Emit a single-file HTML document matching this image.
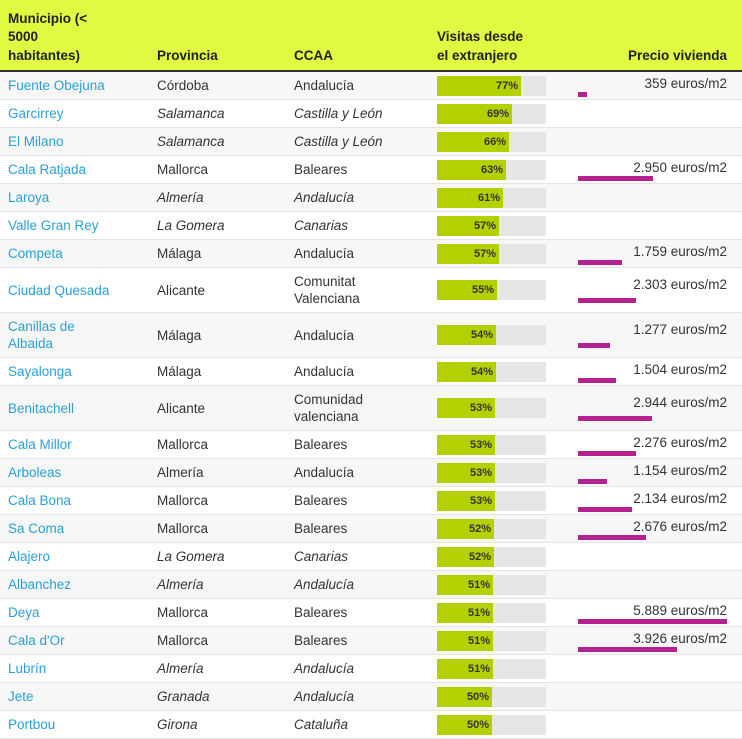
<!DOCTYPE html>
<html><head><meta charset="utf-8"><style>
body{margin:0;background:#fff;font-family:"Liberation Sans",Arial,sans-serif;}
table{border-collapse:collapse;table-layout:fixed;width:742px;font-size:13.5px;color:#333;}
th{background:#e1fa41;text-align:left;vertical-align:bottom;font-weight:bold;font-size:13.5px;line-height:18.5px;padding:0 8px 5px 8px;height:65px;border-bottom:2px solid #333;color:#222}
td{padding:0 0 0 8px;height:27px;border-bottom:1px solid #e4e4e4;line-height:17px;vertical-align:middle}
tr.d td{height:44px}
tr:nth-child(even) td{background:#f7f7f7}
td.m{color:#2aa0d4}
tr.i td.p,tr.i td.c{font-style:italic}
.bar{width:109px;height:20px;background:#e6e6e6;position:relative}
.bar div{height:20px;background:#b5d000;text-align:right;font-size:11px;font-weight:bold;line-height:20px;box-sizing:border-box;padding-right:3px;color:#333}
td.pr{position:relative;padding:0}
td.pr span{position:absolute;right:15px;top:3px}
td.pr i{position:absolute;left:8px;bottom:2px;height:5px;background:#b5228f}
tr.d td.pr span{top:8px}
tr.d td.pr i{bottom:9px}
</style></head><body>
<table>
<colgroup><col style="width:149px"><col style="width:137px"><col style="width:143px"><col style="width:141px"><col style="width:172px"></colgroup>
<tr><th>Municipio (&lt;<br>5000<br>habitantes)</th><th>Provincia</th><th>CCAA</th><th>Visitas desde<br>el extranjero</th><th style="text-align:right;padding-right:15px">Precio vivienda</th></tr>
<tr><td class="m">Fuente Obejuna</td><td class="p">Córdoba</td><td class="c">Andalucía</td><td><div class="bar"><div style="width:84px">77%</div></div></td><td class="pr"><span>359 euros/m2</span><i style="width:9px"></i></td></tr>
<tr class="i"><td class="m">Garcirrey</td><td class="p">Salamanca</td><td class="c">Castilla y León</td><td><div class="bar"><div style="width:75px">69%</div></div></td><td class="pr"></td></tr>
<tr class="i"><td class="m">El Milano</td><td class="p">Salamanca</td><td class="c">Castilla y León</td><td><div class="bar"><div style="width:72px">66%</div></div></td><td class="pr"></td></tr>
<tr><td class="m">Cala Ratjada</td><td class="p">Mallorca</td><td class="c">Baleares</td><td><div class="bar"><div style="width:69px">63%</div></div></td><td class="pr"><span>2.950 euros/m2</span><i style="width:75px"></i></td></tr>
<tr class="i"><td class="m">Laroya</td><td class="p">Almería</td><td class="c">Andalucía</td><td><div class="bar"><div style="width:66px">61%</div></div></td><td class="pr"></td></tr>
<tr class="i"><td class="m">Valle Gran Rey</td><td class="p">La Gomera</td><td class="c">Canarias</td><td><div class="bar"><div style="width:62px">57%</div></div></td><td class="pr"></td></tr>
<tr><td class="m">Competa</td><td class="p">Málaga</td><td class="c">Andalucía</td><td><div class="bar"><div style="width:62px">57%</div></div></td><td class="pr"><span>1.759 euros/m2</span><i style="width:44px"></i></td></tr>
<tr class="d"><td class="m">Ciudad Quesada</td><td class="p">Alicante</td><td class="c">Comunitat<br>Valenciana</td><td><div class="bar"><div style="width:60px">55%</div></div></td><td class="pr"><span>2.303 euros/m2</span><i style="width:58px"></i></td></tr>
<tr class="d"><td class="m">Canillas de<br>Albaida</td><td class="p">Málaga</td><td class="c">Andalucía</td><td><div class="bar"><div style="width:59px">54%</div></div></td><td class="pr"><span>1.277 euros/m2</span><i style="width:32px"></i></td></tr>
<tr><td class="m">Sayalonga</td><td class="p">Málaga</td><td class="c">Andalucía</td><td><div class="bar"><div style="width:59px">54%</div></div></td><td class="pr"><span>1.504 euros/m2</span><i style="width:38px"></i></td></tr>
<tr class="d"><td class="m">Benitachell</td><td class="p">Alicante</td><td class="c">Comunidad<br>valenciana</td><td><div class="bar"><div style="width:58px">53%</div></div></td><td class="pr"><span>2.944 euros/m2</span><i style="width:74px"></i></td></tr>
<tr><td class="m">Cala Millor</td><td class="p">Mallorca</td><td class="c">Baleares</td><td><div class="bar"><div style="width:58px">53%</div></div></td><td class="pr"><span>2.276 euros/m2</span><i style="width:58px"></i></td></tr>
<tr><td class="m">Arboleas</td><td class="p">Almería</td><td class="c">Andalucía</td><td><div class="bar"><div style="width:58px">53%</div></div></td><td class="pr"><span>1.154 euros/m2</span><i style="width:29px"></i></td></tr>
<tr><td class="m">Cala Bona</td><td class="p">Mallorca</td><td class="c">Baleares</td><td><div class="bar"><div style="width:58px">53%</div></div></td><td class="pr"><span>2.134 euros/m2</span><i style="width:54px"></i></td></tr>
<tr><td class="m">Sa Coma</td><td class="p">Mallorca</td><td class="c">Baleares</td><td><div class="bar"><div style="width:57px">52%</div></div></td><td class="pr"><span>2.676 euros/m2</span><i style="width:68px"></i></td></tr>
<tr class="i"><td class="m">Alajero</td><td class="p">La Gomera</td><td class="c">Canarias</td><td><div class="bar"><div style="width:57px">52%</div></div></td><td class="pr"></td></tr>
<tr class="i"><td class="m">Albanchez</td><td class="p">Almería</td><td class="c">Andalucía</td><td><div class="bar"><div style="width:56px">51%</div></div></td><td class="pr"></td></tr>
<tr><td class="m">Deya</td><td class="p">Mallorca</td><td class="c">Baleares</td><td><div class="bar"><div style="width:56px">51%</div></div></td><td class="pr"><span>5.889 euros/m2</span><i style="width:149px"></i></td></tr>
<tr><td class="m">Cala d'Or</td><td class="p">Mallorca</td><td class="c">Baleares</td><td><div class="bar"><div style="width:56px">51%</div></div></td><td class="pr"><span>3.926 euros/m2</span><i style="width:99px"></i></td></tr>
<tr class="i"><td class="m">Lubrín</td><td class="p">Almería</td><td class="c">Andalucía</td><td><div class="bar"><div style="width:56px">51%</div></div></td><td class="pr"></td></tr>
<tr class="i"><td class="m">Jete</td><td class="p">Granada</td><td class="c">Andalucía</td><td><div class="bar"><div style="width:55px">50%</div></div></td><td class="pr"></td></tr>
<tr class="i"><td class="m">Portbou</td><td class="p">Girona</td><td class="c">Cataluña</td><td><div class="bar"><div style="width:55px">50%</div></div></td><td class="pr"></td></tr>
</table>
</body></html>
